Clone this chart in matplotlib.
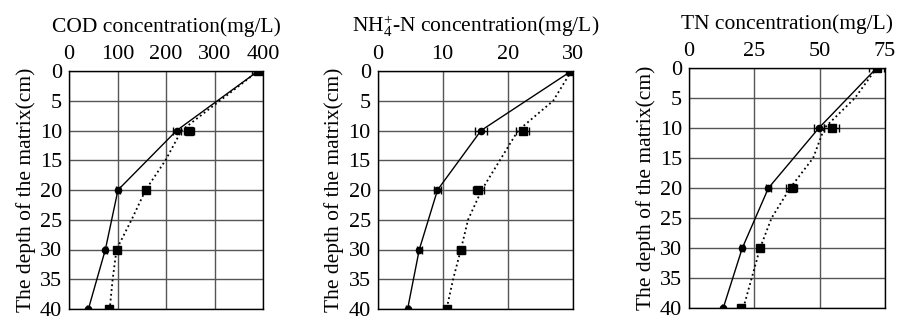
import matplotlib
matplotlib.use('Agg')
import matplotlib.pyplot as plt
import numpy as np

plt.rcParams['font.family'] = ['Liberation Serif', 'DejaVu Serif']
plt.rcParams['mathtext.fontset'] = 'custom'
plt.rcParams['mathtext.rm'] = 'Liberation Serif'
plt.rcParams['mathtext.it'] = 'Liberation Serif:italic'

depth = [0, 10, 20, 30, 40]
trend_depth = [0, 5, 10, 15, 20, 25, 30, 35, 40]

# COD
cod_circ = [390, 222, 101, 75, 40]
cod_circ_err = [0, 8, 4, 3, 2]
cod_sq = [390, 248, 158, 98, 83]
cod_sq_err = [12, 10, 5, 4, 2]
cod_trend = [390, 311, 232, 199, 158, 129, 98, 90, 84]

# NH4+-N
nh_circ = [29.8, 15.9, 9.2, 6.4, 4.6]
nh_circ_err = [0, 0.9, 0.5, 0.4, 0.2]
nh_sq = [29.8, 22.3, 15.5, 12.8, 10.6]
nh_sq_err = [0.8, 1.0, 0.8, 0.6, 0.3]
nh_trend = [29.8, 27.0, 21.6, 18.8, 16.0, 13.9, 12.8, 11.6, 10.6]

# TN
tn_circ = [71.8, 49.7, 30.4, 20.4, 13.1]
tn_circ_err = [0, 1.8, 1.0, 0.8, 0.3]
tn_sq = [71.8, 54.6, 39.3, 27.2, 19.8]
tn_sq_err = [3.0, 2.8, 2.0, 1.0, 0.5]
tn_trend = [71.8, 63.5, 51.8, 47.5, 38.7, 31.6, 27.2, 24.0, 20.8]

panels = [
    ('COD concentration(mg/L)', [0, 100, 200, 300, 400], 400,
     cod_circ, cod_circ_err, cod_sq, cod_sq_err, cod_trend,
     [69/900, 1-309/321, 194/900, 238/321]),
    ('NH$_4^{+}$-N concentration(mg/L)', [0, 10, 20, 30], 30,
     nh_circ, nh_circ_err, nh_sq, nh_sq_err, nh_trend,
     [377.7/900, 1-309/321, 195/900, 238/321]),
    ('TN concentration(mg/L)', [0, 25, 50, 75], 75,
     tn_circ, tn_circ_err, tn_sq, tn_sq_err, tn_trend,
     [689/900, 1-308/321, 196/900, 240/321]),
]

fig = plt.figure(figsize=(9, 3.21), dpi=100)

for title, xt, xmax, circ, cerr, sq, serr, trend, pos in panels:
    ax = fig.add_axes(pos)
    ax.plot(trend, trend_depth, ':', color='black', lw=1.3, zorder=2)
    ax.errorbar(circ, depth, xerr=cerr, fmt='-o', color='black', ms=4.5,
                lw=1.0, elinewidth=0.9, capsize=3, zorder=3)
    ax.errorbar(sq, depth, xerr=serr, fmt='s', color='black', ms=5.5,
                elinewidth=0.9, capsize=3, zorder=3)
    ax.set_xlim(0, xmax)
    ax.set_ylim(40, 0)
    ax.set_xticks(xt)
    ax.set_yticks(range(0, 41, 5))
    ax.xaxis.tick_top()
    ax.tick_params(length=0, labelsize=16)
    ax.tick_params(axis='x', pad=5)
    ax.tick_params(axis='y', pad=5)
    ax.grid(True, color='#555555', lw=1.0)
    ax.set_axisbelow(True)
    for s in ax.spines.values():
        s.set_linewidth(1.0)
    ax.set_title(title, fontsize=15.5, pad=28)
    ax.set_ylabel('The depth of the matrix(cm)', fontsize=15.5, labelpad=3)

plt.savefig('out.png', dpi=100)
